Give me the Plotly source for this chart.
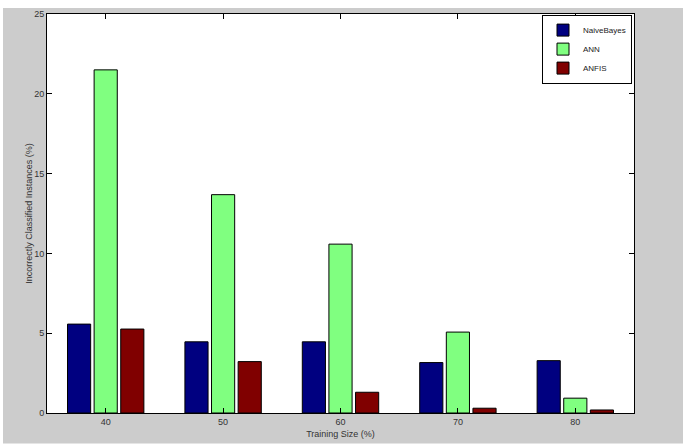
import plotly.graph_objects as go

training_size = [40, 50, 60, 70, 80]
naive_bayes = [5.57, 4.46, 4.46, 3.16, 3.28]
ann = [21.5, 13.68, 10.58, 5.07, 0.93]
anfis = [5.26, 3.22, 1.30, 0.30, 0.19]

series = [("NaiveBayes", naive_bayes, "#000080"),
          ("ANN", ann, "#80ff80"),
          ("ANFIS", anfis, "#800000")]

FONT = "Liberation Sans Narrow, Arial Narrow, Liberation Sans, sans-serif"

fig = go.Figure()
for name, vals, col in series:
    fig.add_trace(go.Bar(x=training_size, y=vals, name=name,
                         marker=dict(color=col, line=dict(color="black", width=1))))

W, H = 683, 448
L, R, T, B = 47, 49, 9, 35
pw = W - L - R
ph = H - T - B

fig.add_shape(type="rect", xref="paper", yref="paper", layer="below",
              x0=(3 - L) / pw, x1=(W - L) / pw,
              y0=-(444 - (H - B)) / ph, y1=(H - B - 3) / ph,
              fillcolor="#cccccc", line=dict(width=0))
fig.add_shape(type="rect", xref="paper", yref="paper", layer="below",
              x0=0, x1=1, y0=0, y1=1,
              fillcolor="white", line=dict(width=0))

fig.update_layout(
    width=W, height=H,
    margin=dict(l=L, r=R, t=T, b=B, pad=0),
    paper_bgcolor="white", plot_bgcolor="white",
    barmode="group", bargap=0.32, bargroupgap=0.13,
    font=dict(family=FONT, size=9, color="#333333"),
    showlegend=True,
    legend=dict(x=0.9966, y=0.9985, xanchor="right", yanchor="top",
                bgcolor="white", bordercolor="black", borderwidth=1,
                font=dict(size=8, color="#222222"),
                itemwidth=30, tracegroupgap=0),
    xaxis=dict(range=[35, 85], tickvals=training_size,
               ticktext=[str(v) for v in training_size],
               showline=True, linecolor="black", linewidth=1, mirror="allticks",
               ticks="inside", ticklen=5, tickcolor="black", showgrid=False, zeroline=False,
               title=dict(text="Training Size (%)", standoff=4, font=dict(size=9))),
    yaxis=dict(range=[0, 25], tickvals=[0, 5, 10, 15, 20, 25],
               showline=True, linecolor="black", linewidth=1, mirror="allticks",
               ticks="inside", ticklen=5, tickcolor="black", showgrid=False, zeroline=False,
               title=dict(text="Incorrectly Classified Instances (%)", standoff=0, font=dict(size=9))),
)

fig.write_html("out.html")
